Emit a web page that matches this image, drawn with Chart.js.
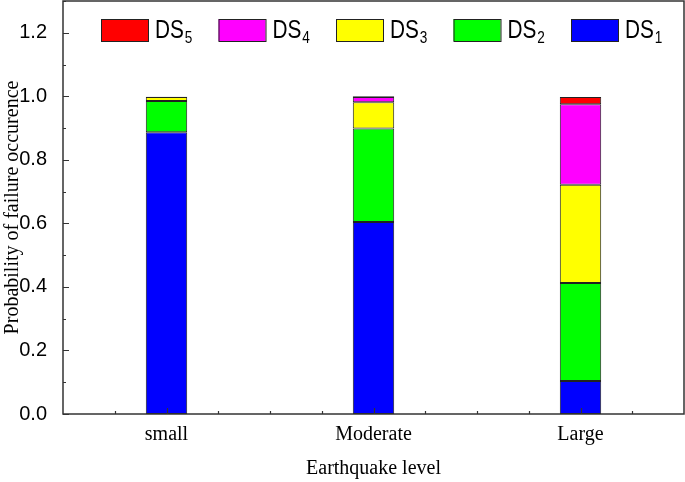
<!DOCTYPE html>
<html>
<head>
<meta charset="utf-8">
<script src="https://cdn.jsdelivr.net/npm/chart.js@4.4.1/dist/chart.umd.min.js"></script>
<style>
  html, body { margin: 0; padding: 0; background: #fff; }
  #wrap { width: 685px; height: 482px; }
</style>
</head>
<body>
<div id="wrap"><canvas id="chart" width="685" height="482"></canvas></div>
<script>
const levels = ['small', 'Moderate', 'Large'];
const ds1 = [0.887, 0.604, 0.104];
const ds2 = [0.098, 0.295, 0.308];
const ds3 = [0.013, 0.082, 0.310];
const ds4 = [0.001, 0.017, 0.253];
const ds5 = [0.000, 0.002, 0.023];
const yTickValues = [0, 0.2, 0.4, 0.6, 0.8, 1.0, 1.2];

const seriesNames = ['1', '2', '3', '4', '5'];
const seriesColors = ['#0000ff', '#00ff00', '#ffff00', '#ff00ff', '#ff0000'];

const frameColor = '#333';

// inward ticks, box frame and the legend with subscripts
const framePlugin = {
    id: 'frame',
    afterDatasetsDraw(chart) {
        const ctx = chart.ctx;
        const x = chart.scales.x;
        const y = chart.scales.y;
        const left = x.left, right = x.right, top = y.top, bottom = y.bottom;
        ctx.save();
        ctx.strokeStyle = frameColor;
        ctx.lineWidth = 1.5;
        ctx.strokeRect(left, top, right - left, bottom - top);

        ctx.lineWidth = 1.2;
        ctx.beginPath();
        for (let i = 0; i <= 13; i++) {
            const py = Math.round(y.getPixelForValue(i / 10)) + 0.5;
            const len = i % 2 === 0 ? 6 : 3;
            ctx.moveTo(left, py);
            ctx.lineTo(left + len, py);
        }
        for (let k = -1; k <= 9; k++) {
            const px = Math.round(x.getPixelForValue(k / 4)) + 0.5;
            const len = k % 4 === 0 ? 6 : 3;
            ctx.moveTo(px, bottom);
            ctx.lineTo(px, bottom - len);
        }
        ctx.stroke();

        // legend, DS5 first
        let lx = 101;
        const boxTop = 19, boxW = 47, boxH = 22, base = 38;
        for (let i = seriesNames.length - 1; i >= 0; i--) {
            ctx.fillStyle = seriesColors[i];
            ctx.fillRect(lx, boxTop, boxW, boxH);
            ctx.strokeStyle = '#222';
            ctx.lineWidth = 1;
            ctx.strokeRect(lx + 0.5, boxTop + 0.5, boxW, boxH);

            ctx.save();
            ctx.fillStyle = '#000';
            ctx.textBaseline = 'alphabetic';
            ctx.translate(lx + boxW + 7, base);
            ctx.scale(0.8, 1);
            ctx.font = '26px "Liberation Sans", Arial, sans-serif';
            ctx.fillText('DS', 0, 0);
            const w = ctx.measureText('DS').width;
            ctx.font = '17px "Liberation Sans", Arial, sans-serif';
            ctx.fillText(seriesNames[i], w + 1, 5);
            ctx.restore();
            lx += 117.5;
        }
        ctx.restore();
    }
};

const datasets = [ds1, ds2, ds3, ds4, ds5].map((vals, i) => ({
    label: 'DS' + seriesNames[i],
    data: vals,
    backgroundColor: seriesColors[i],
    borderColor: '#222',
    borderWidth: 1,
    borderSkipped: false,
    categoryPercentage: 1.0,
    barPercentage: 0.2
}));

new Chart(document.getElementById('chart').getContext('2d'), {
    type: 'bar',
    data: { labels: levels, datasets: datasets },
    options: {
        responsive: false,
        animation: false,
        events: [],
        layout: { padding: { top: 1, right: 1, left: 0, bottom: 0 } },
        plugins: {
            legend: { display: false },
            tooltip: { enabled: false }
        },
        scales: {
            x: {
                stacked: true,
                offset: true,
                grid: { display: false },
                border: { display: false },
                ticks: {
                    color: '#000',
                    padding: 1,
                    font: { family: '"Liberation Serif", "Times New Roman", serif', size: 20 }
                },
                title: {
                    display: true,
                    text: 'Earthquake level',
                    color: '#000',
                    padding: { top: 0, bottom: 1 },
                    font: { family: '"Liberation Serif", "Times New Roman", serif', size: 20 }
                },
                afterFit: s => {
                    s.height = 68;
                    s.paddingLeft = 0;
                    s.paddingRight = 0;
                }
            },
            y: {
                stacked: true,
                min: 0,
                max: 1.3,
                grid: { display: false },
                border: { display: false },
                afterBuildTicks: s => { s.ticks = yTickValues.map(v => ({ value: v })); },
                ticks: {
                    color: '#000',
                    padding: 8,
                    callback: v => v.toFixed(1),
                    font: { family: '"Liberation Sans", Arial, sans-serif', size: 20 }
                },
                title: {
                    display: true,
                    text: 'Probability of failure occurence',
                    color: '#000',
                    padding: { top: 1, bottom: 0 },
                    font: { family: '"Liberation Serif", "Times New Roman", serif', size: 20 }
                },
                afterFit: s => {
                    s.width = 63;
                    s.paddingTop = 0;
                    s.paddingBottom = 0;
                }
            }
        }
    },
    plugins: [framePlugin]
});
</script>
</body>
</html>
